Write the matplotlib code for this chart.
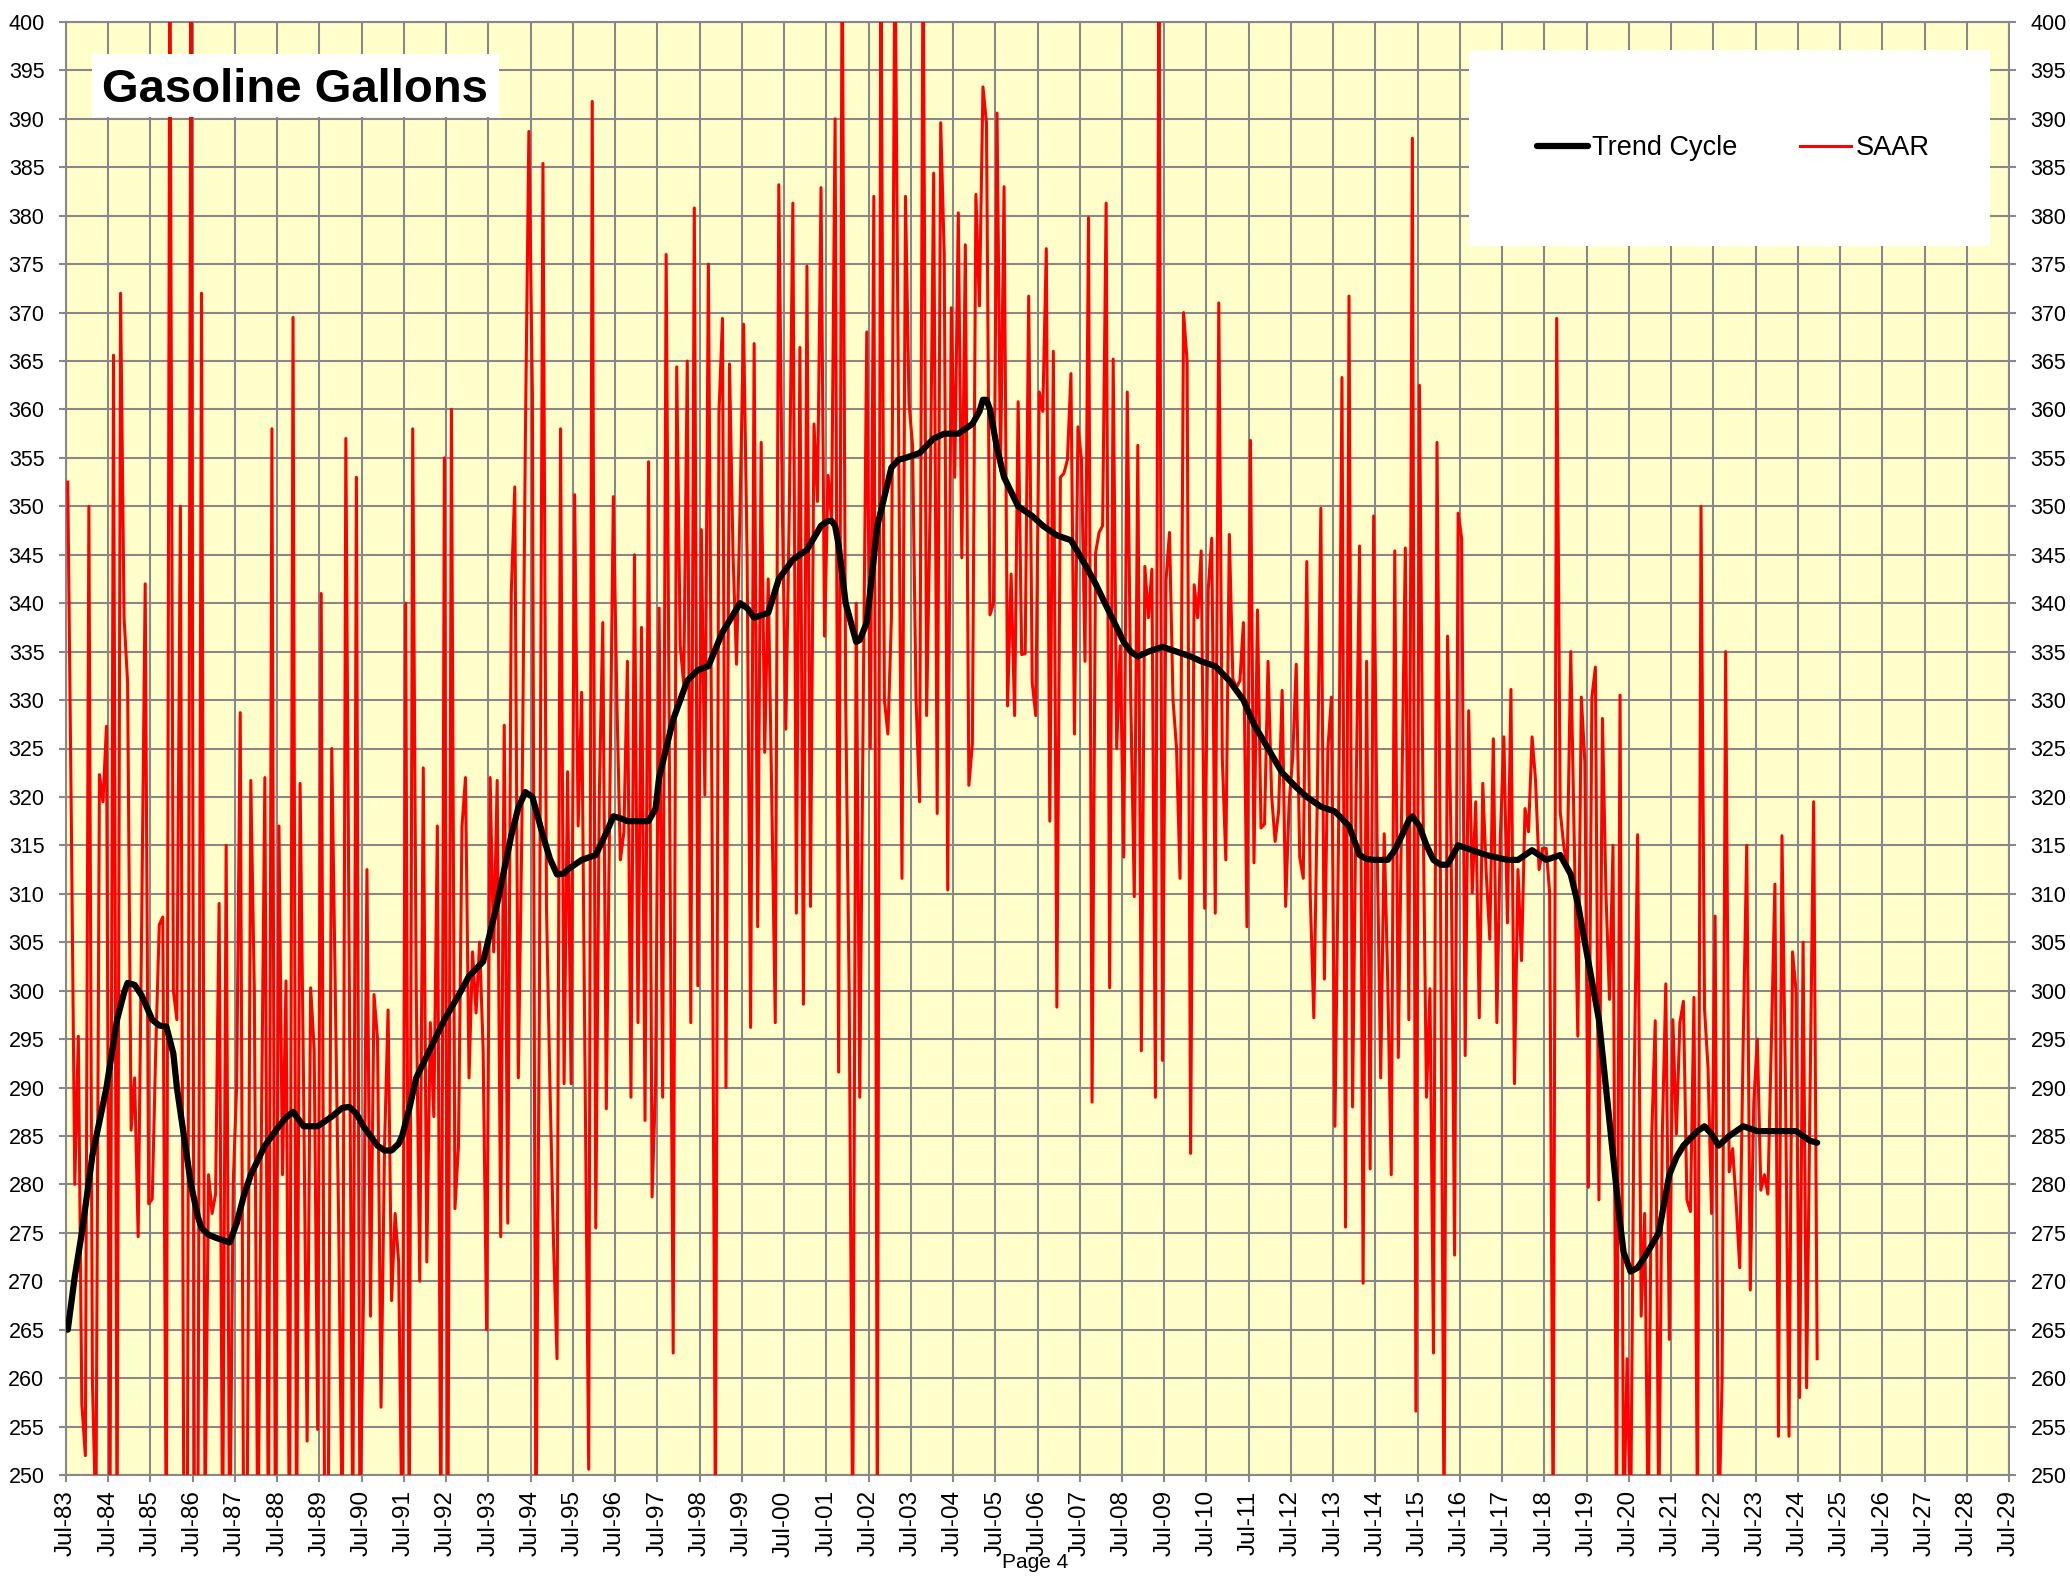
import numpy as np
import matplotlib.pyplot as plt
from matplotlib.patches import Rectangle

plt.rcParams['font.family'] = ['Liberation Sans', 'DejaVu Sans']

# monthly SAAR, Jul-83 .. Dec-24 (one row per Jul..Jun year)
saar = [
    352.5, 318, 280, 295.3, 257.3, 252, 350, 259.7, 245, 322.3, 319.5, 327.3,
    245, 365.6, 242, 372, 338.5, 331.8, 285.6, 291, 274.6, 307, 342, 278,
    278.5, 294, 306.8, 307.6, 242, 410, 300, 297, 350, 242, 246, 410,
    240, 248, 372, 245, 281, 277, 279, 309, 242, 315, 240, 280,
    290.4, 328.7, 240, 247, 321.7, 300, 240, 285, 322, 240, 358, 240,
    317, 281, 301, 240, 369.5, 240, 321.4, 290, 253.5, 300.3, 294, 254.7,
    341, 242, 245, 325, 300, 275, 243, 357, 300, 243, 353, 244,
    268, 312.5, 266.4, 299.6, 295, 257, 284, 298, 268, 277, 272, 242,
    340, 242, 358, 300, 270, 323, 272, 296.7, 287, 317, 242, 355,
    242, 360, 277.5, 284, 317, 322, 291, 304, 297.7, 305, 294, 265,
    322, 304, 321.7, 274.6, 327.4, 276, 341, 352, 291, 316.4, 356.8, 388.7,
    361.5, 242, 300, 385.4, 308.7, 290, 274, 262, 358, 290.4, 322.6, 290.4,
    351.2, 317, 330.8, 290, 250.6, 391.8, 275.5, 320, 338, 287.8, 320, 351,
    330, 313.5, 316.4, 334, 289, 345, 296.7, 337.5, 286.6, 354.6, 278.7, 290.4,
    339.5, 289, 376, 320, 262.6, 364.4, 335.6, 331.6, 365, 296.7, 380.8, 300.5,
    347.6, 320.2, 375, 320, 244, 359.6, 369.4, 290, 364.7, 345, 333.7, 350,
    368.8, 345, 296.2, 366.8, 306.6, 356.6, 324.6, 342.5, 320, 296.7, 383.2, 350,
    327, 350, 381.3, 308, 366.4, 298.6, 374.8, 308.7, 358.5, 350.5, 382.9, 336.6,
    353.2, 348.6, 390, 291.6, 410, 330, 300, 243, 340, 289, 330, 368,
    325, 382, 243, 410, 330, 326.5, 338.5, 410, 360, 311.6, 382, 360.6,
    356.3, 330, 319.5, 410, 328.4, 350, 384.4, 318.3, 389.6, 376, 310.4, 370.5,
    353, 380.3, 344.7, 377, 321.2, 325.5, 382.2, 370.7, 393.3, 389.6, 338.8, 340,
    390.6, 353.7, 383, 329.4, 343, 328.4, 360.8, 334.7, 334.8, 371.7, 331.8, 328.4,
    361.8, 359.8, 376.6, 317.5, 366, 298.3, 353, 353.4, 354.8, 363.7, 326.5, 358.2,
    354.8, 334, 379.8, 288.5, 345.2, 347.3, 348, 381.3, 300.3, 365.2, 325, 335.6,
    313.8, 361.8, 330, 309.7, 356.3, 293.8, 343.8, 338.5, 343.5, 289, 410, 292.8,
    342.3, 347.3, 330, 325, 311.6, 370, 365, 283.2, 341.9, 338.5, 345.4, 308.5,
    341.4, 346.7, 308, 371, 324, 313.5, 347.1, 332.2, 331.3, 332, 338, 306.6,
    356.8, 313.2, 339.3, 316.8, 317.2, 334, 320.2, 315.4, 318.5, 331, 308.7, 319.5,
    324, 333.7, 313.8, 311.6, 344.3, 309.7, 297.2, 320, 349.8, 301.2, 325, 330.3,
    286, 315, 363.3, 275.6, 371.7, 288, 320, 345.9, 269.8, 334, 281.6, 349,
    315, 291, 316.2, 301, 281, 345.4, 293.1, 320, 345.7, 297, 388, 256.6,
    362.5, 320, 289, 300.2, 262.6, 356.6, 310, 244, 336.6, 315, 272.7, 349.3,
    346.7, 293.3, 328.9, 310.1, 319.5, 297.2, 321.4, 312, 305.3, 326, 296.7, 316,
    326.2, 307, 331.1, 290.4, 312.5, 303.1, 318.8, 316.4, 326.2, 321.7, 312.5, 314.7,
    314.7, 310.1, 244, 369.4, 318.5, 315, 312.7, 335, 315, 295.3, 330.3, 323.6,
    279.7, 330.3, 333.4, 278.4, 328.1, 310, 299.1, 315, 244, 330.5, 244, 262,
    244, 290, 316.1, 266.4, 277, 244, 285, 296.9, 244, 285, 300.7, 264,
    297, 285.2, 296.7, 298.9, 278.4, 277.2, 299.3, 244, 350, 298.1, 292, 277,
    307.7, 244, 260, 335, 281.3, 283.7, 278, 271.4, 295, 315, 269.1, 288.5,
    295, 279.4, 281, 279, 295, 311, 254, 316, 290, 254, 304, 300,
    258, 305, 259, 290, 319.5, 262,
]

# trend cycle read at selected months (month 0 = Jul-83)
trend_month = [0, 2, 4, 7, 11, 14, 16, 17, 19, 21, 24, 26, 28, 30, 31, 33, 35, 37, 38, 40, 42,
               46, 48, 50, 52, 56, 60, 62, 64, 67, 71, 75, 78, 80, 82, 84, 88, 90, 92, 94, 95,
               97, 99, 103, 107, 111, 114, 118, 122, 126, 128, 130, 132, 135, 137, 139, 141,
               142, 146, 150, 153, 155, 157, 159, 165, 167, 168, 172, 176, 179, 182, 186, 191,
               193, 195, 199, 202, 206, 210, 214, 216, 217, 218, 219, 221, 224, 225, 227, 230,
               234, 236, 238, 242, 246, 249, 253, 257, 259, 260, 261, 262, 264, 266, 270, 274,
               277, 281, 285, 289, 292, 296, 300, 302, 304, 307, 311, 315, 319, 322, 326, 330,
               334, 337, 341, 345, 349, 352, 356, 360, 364, 367, 369, 371, 375, 377, 379, 381,
               382, 384, 386, 388, 390, 392, 395, 399, 403, 409, 412, 416, 420, 424, 427, 429,
               431, 435, 439, 441, 442, 444, 446, 448, 452, 455, 457, 459, 463, 465, 467, 469,
               472, 476, 480, 484, 487, 491, 495, 497]
trend_value = [265, 270.5, 275, 283, 290, 297, 299.8, 300.8, 300.6, 299.5, 297, 296.4, 296.3,
               293.5, 290, 285, 280, 276.6, 275.5, 274.8, 274.5, 274, 276, 278.8, 281, 284,
               286, 286.9, 287.5, 286, 286, 287, 287.9, 288, 287.3, 286, 284, 283.5, 283.5,
               284.2, 285, 287.8, 291, 294, 297, 299.5, 301.5, 303, 309, 316, 318.9, 320.5,
               320, 316, 313.6, 312, 312.1, 312.5, 313.5, 314, 316.3, 318, 317.8, 317.5, 317.5,
               318.8, 322, 328, 332, 333.1, 333.5, 337, 340, 339.5, 338.5, 339, 342.5, 344.5,
               345.5, 348, 348.5, 348.5, 348, 346, 340, 336, 336.2, 338, 348, 354, 354.8, 355,
               355.5, 357, 357.5, 357.5, 358.5, 359.8, 361, 361, 360, 356, 353, 350, 349, 348,
               347, 346.5, 344, 342, 339, 336, 335, 334.5, 335, 335.5, 335, 334.5, 334, 333.5,
               332, 330, 327.5, 325, 322.5, 321, 320, 319, 318.5, 317, 314, 313.6, 313.5, 313.5,
               314.5, 316, 317.6, 318, 317, 315, 313.5, 313, 313, 315, 314.5, 314, 313.5, 313.5,
               314.5, 313.5, 314, 312, 309, 305, 297, 283, 276, 273, 271, 271.4, 272.5, 275, 281,
               282.8, 284, 285.5, 286, 285.2, 284, 285, 286, 285.5, 285.5, 285.5, 285.5, 284.5,
               284.3]

tick_years = list(range(1983, 2030))
tick_labels = ['Jul-%02d' % (y % 100) for y in tick_years]
grid_gray = '#888888'

fig = plt.figure(figsize=(20.7, 15.83), dpi=100)
ax = fig.add_axes([66 / 2070, 1 - 1475 / 1583, 1943 / 2070, 1453 / 1583])
ax.set_facecolor('#FFFFCC')

months = np.arange(len(saar)) + 0.5
ax.plot(months, saar, color='#FF0000', lw=2.2, zorder=3, label='SAAR')
ax.plot(np.array(trend_month) + 0.5, trend_value, color='black', lw=4.5, zorder=4,
        solid_capstyle='round', solid_joinstyle='round', label='Trend Cycle')

ax.set_xlim(0, 552)
ax.set_ylim(250, 400)
ax.set_xticks(np.arange(0, 553, 12))
ax.set_xticklabels(tick_labels, rotation=90, fontsize=17.5)
ax.set_yticks(np.arange(250, 401, 5))
ax.tick_params(axis='y', left=True, right=True, labelleft=True, labelright=True,
               labelsize=15.5, length=5, width=1.5, color=grid_gray, pad=10.5)
ax.tick_params(axis='x', labelsize=17.5, length=5, width=1.5, color=grid_gray, pad=6)
ax.grid(True, color=grid_gray, lw=1.5, zorder=1)
ax.set_axisbelow(True)
for s in ax.spines.values():
    s.set_color(grid_gray)
    s.set_linewidth(1.5)

# title box
ax.add_patch(Rectangle((0.0134, 0.9346), 0.2094, 0.0434, transform=ax.transAxes,
                       facecolor='white', edgecolor='none', zorder=5))
ax.text(0.0185, 0.945, 'Gasoline Gallons', transform=ax.transAxes, fontsize=34,
        fontweight='bold', ha='left', va='baseline', zorder=6)

# legend box
ax.add_patch(Rectangle((0.722, 0.8458), 0.268, 0.1349, transform=ax.transAxes,
                       facecolor='white', edgecolor='none', zorder=5))
handles, labels = ax.get_legend_handles_labels()
leg = ax.legend(handles[::-1], labels[::-1], loc='center', bbox_to_anchor=(0.724, 0.8458, 0.268, 0.1349),
                ncol=2, frameon=False, fontsize=19.5, handlelength=1.9, handletextpad=0.15,
                columnspacing=2.3)
leg.set_zorder(6)

fig.text(0.5, 1 - 1562 / 1583, 'Page 4', ha='center', va='center', fontsize=15)

fig.savefig('out.png', dpi=100)
